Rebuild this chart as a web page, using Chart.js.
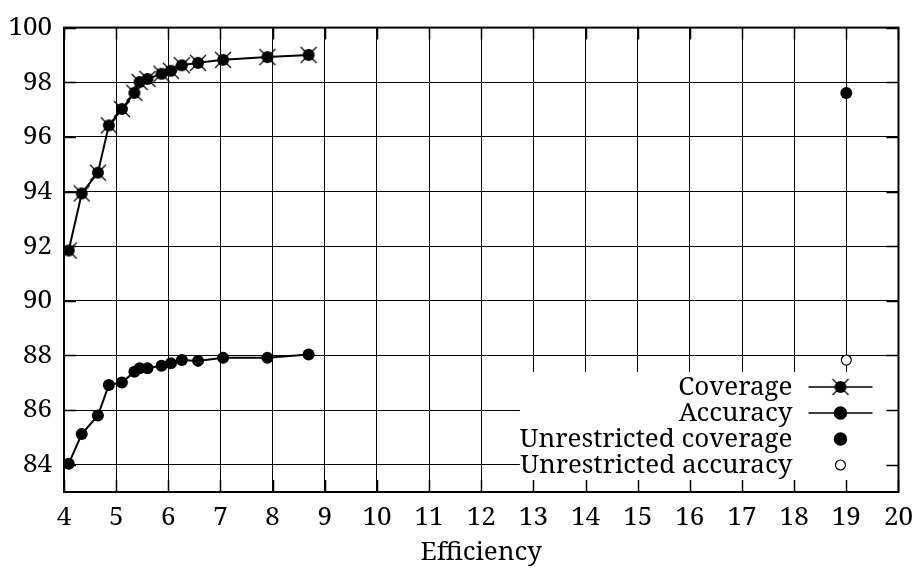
<!DOCTYPE html>
<html>
<head>
<meta charset="utf-8">
<script src="https://cdn.jsdelivr.net/npm/chart.js@4.4.0/dist/chart.umd.min.js"></script>
<style>
html, body { margin: 0; padding: 0; background: #fff; }
</style>
</head>
<body>
<canvas id="effChart" width="923" height="569"></canvas>
<script>
// values
var efficiency = [4.09, 4.34, 4.65, 4.86, 5.11, 5.35, 5.45, 5.60, 5.87, 6.05, 6.26, 6.57, 7.05, 7.90, 8.69];
var coverage = [91.84, 93.93, 94.69, 96.42, 97.02, 97.61, 98.01, 98.12, 98.31, 98.42, 98.62, 98.71, 98.82, 98.92, 99.00];
var accuracy = [84.03, 85.12, 85.80, 86.92, 87.01, 87.40, 87.53, 87.53, 87.62, 87.71, 87.83, 87.80, 87.91, 87.91, 88.03];
var unrestrictedEfficiency = [19];
var unrestrictedCoverage = [97.61];
var unrestrictedAccuracy = [87.83];
var xTicks = [4, 5, 6, 7, 8, 9, 10, 11, 12, 13, 14, 15, 16, 17, 18, 19, 20];
var yTicks = [84, 86, 88, 90, 92, 94, 96, 98, 100];

var FONT = "'Noto Serif', 'Liberation Serif', serif";
var FONT_SIZE = 26;

function toPoints(xs, ys) {
    return xs.map(function (x, i) { return { x: x, y: ys[i] }; });
}

// filled circle with an x over it (gnuplot style)
function coverageMarker() {
    var c = document.createElement('canvas');
    c.width = 22; c.height = 22;
    var g = c.getContext('2d');
    g.fillStyle = '#000';
    g.beginPath();
    g.arc(11, 11, 6, 0, Math.PI * 2);
    g.fill();
    g.strokeStyle = '#000';
    g.lineWidth = 1.2;
    g.beginPath();
    g.moveTo(3, 3); g.lineTo(19, 19);
    g.moveTo(19, 3); g.lineTo(3, 19);
    g.stroke();
    return c;
}
var covMarker = coverageMarker();

// legend inside the plot with white box, inward ticks and full frame
var frameAndKey = {
    id: 'frameAndKey',
    afterDatasetsDraw: function (chart) {
        var ctx = chart.ctx, a = chart.chartArea;
        var sx = chart.scales.x, sy = chart.scales.y;
        var sets = chart.data.datasets;
        var textRight = a.right - 106;
        var sampleL = a.right - 90, sampleR = a.right - 26, sampleX = a.right - 58;
        var rowGap = 26;
        var lastRow = a.bottom - 27;
        var firstRow = lastRow - rowGap * (sets.length - 1);

        ctx.save();
        ctx.font = FONT_SIZE + 'px ' + FONT;
        var maxW = 0;
        sets.forEach(function (d) { maxW = Math.max(maxW, ctx.measureText(d.label).width); });
        var boxL = textRight - maxW;
        var boxT = firstRow - 15;
        ctx.fillStyle = '#fff';
        ctx.fillRect(boxL, boxT, a.right - boxL, a.bottom - boxT);

        ctx.textAlign = 'right';
        ctx.textBaseline = 'middle';
        sets.forEach(function (d, i) {
            var ry = firstRow + i * rowGap;
            ctx.fillStyle = '#000';
            ctx.fillText(d.label, textRight, ry + 1);
            if (d.showLine !== false) {
                ctx.strokeStyle = '#000';
                ctx.lineWidth = 1.5;
                ctx.beginPath();
                ctx.moveTo(sampleL, ry); ctx.lineTo(sampleR, ry);
                ctx.stroke();
            }
            if (d.pointStyle instanceof HTMLCanvasElement) {
                ctx.drawImage(d.pointStyle, sampleX - d.pointStyle.width / 2, ry - d.pointStyle.height / 2);
            } else {
                ctx.beginPath();
                ctx.arc(sampleX, ry, d.pointRadius, 0, Math.PI * 2);
                ctx.fillStyle = d.pointBackgroundColor;
                ctx.fill();
                ctx.lineWidth = d.pointBorderWidth;
                ctx.strokeStyle = '#000';
                ctx.stroke();
            }
        });

        // inward tick marks on all four sides
        ctx.strokeStyle = '#000';
        ctx.lineWidth = 1.5;
        ctx.beginPath();
        xTicks.forEach(function (v) {
            var px = Math.round(sx.getPixelForValue(v)) + 0.5;
            ctx.moveTo(px, a.bottom); ctx.lineTo(px, a.bottom - 12);
            ctx.moveTo(px, a.top); ctx.lineTo(px, a.top + 12);
        });
        yTicks.forEach(function (v) {
            var py = Math.round(sy.getPixelForValue(v)) + 0.5;
            ctx.moveTo(a.left, py); ctx.lineTo(a.left + 12, py);
            ctx.moveTo(a.right, py); ctx.lineTo(a.right - 12, py);
        });
        ctx.stroke();

        ctx.lineWidth = 2;
        ctx.strokeRect(a.left, a.top, a.right - a.left, a.bottom - a.top);
        ctx.restore();
    }
};

var ctx = document.getElementById('effChart');

new Chart(ctx, {
    type: 'scatter',
    data: {
        datasets: [{
            label: 'Coverage',
            data: toPoints(efficiency, coverage),
            showLine: true,
            borderColor: '#000',
            borderWidth: 2,
            pointStyle: covMarker,
            pointRadius: 6,
            pointBackgroundColor: '#000',
            pointBorderWidth: 0
        }, {
            label: 'Accuracy',
            data: toPoints(efficiency, accuracy),
            showLine: true,
            borderColor: '#000',
            borderWidth: 2,
            pointStyle: 'circle',
            pointRadius: 6,
            pointBackgroundColor: '#000',
            pointBorderColor: '#000',
            pointBorderWidth: 0
        }, {
            label: 'Unrestricted coverage',
            data: toPoints(unrestrictedEfficiency, unrestrictedCoverage),
            showLine: false,
            pointStyle: 'circle',
            pointRadius: 6,
            pointBackgroundColor: '#000',
            pointBorderColor: '#000',
            pointBorderWidth: 0
        }, {
            label: 'Unrestricted accuracy',
            data: toPoints(unrestrictedEfficiency, unrestrictedAccuracy),
            showLine: false,
            pointStyle: 'circle',
            pointRadius: 5,
            pointBackgroundColor: '#fff',
            pointBorderColor: '#000',
            pointBorderWidth: 1.2
        }]
    },
    options: {
        responsive: false,
        animation: false,
        layout: { padding: { top: 26, right: 20, left: 0, bottom: 0 } },
        plugins: {
            legend: { display: false },
            tooltip: { enabled: false }
        },
        scales: {
            x: {
                type: 'linear',
                min: 4,
                max: 20,
                afterBuildTicks: function (s) { s.ticks = xTicks.map(function (v) { return { value: v }; }); },
                afterFit: function (s) { s.height = 77; },
                grid: { color: '#000', lineWidth: 1, drawTicks: false },
                border: { display: false },
                ticks: {
                    padding: 10,
                    maxRotation: 0,
                    autoSkip: false,
                    color: '#000',
                    font: { family: FONT, size: FONT_SIZE }
                },
                title: {
                    display: true,
                    text: 'Efficiency',
                    color: '#000',
                    padding: { top: 0, bottom: 1 },
                    font: { family: FONT, size: FONT_SIZE, lineHeight: 1.2 }
                }
            },
            y: {
                min: 83,
                max: 100,
                afterBuildTicks: function (s) { s.ticks = yTicks.map(function (v) { return { value: v }; }); },
                afterFit: function (s) { s.width = 64; },
                grid: { color: '#000', lineWidth: 1, drawTicks: false },
                border: { display: false },
                ticks: {
                    padding: 12,
                    autoSkip: false,
                    color: '#000',
                    font: { family: FONT, size: FONT_SIZE }
                }
            }
        }
    },
    plugins: [frameAndKey]
});
</script>
</body>
</html>
